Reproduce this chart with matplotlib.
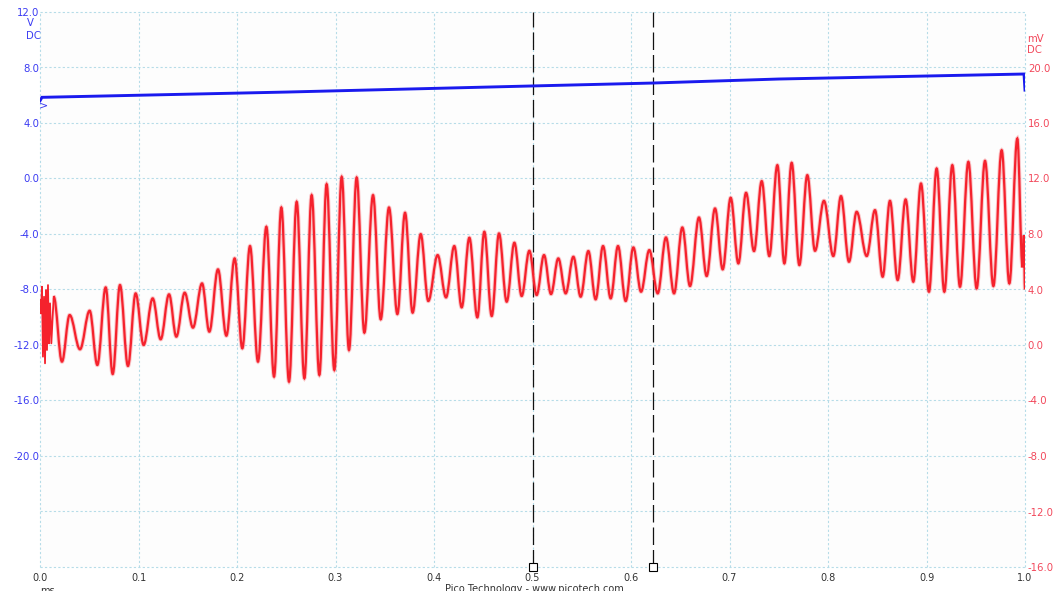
import matplotlib
matplotlib.use("Agg")
import matplotlib.pyplot as plt
from matplotlib.path import Path
from matplotlib.patches import PathPatch

# ---------------- data ----------------
x_ticks = [0.0, 0.1, 0.2, 0.3, 0.4, 0.5, 0.6, 0.7, 0.8, 0.9, 1.0]
x_labels = ["0.0", "0.1", "0.2", "0.3", "0.4", "0.5", "0.6", "0.7", "0.8", "0.9", "1.0"]
v_ticks = [12, 8, 4, 0, -4, -8, -12, -16, -20, -24, -28]
v_labels = ["12.0", "8.0", "4.0", "0.0", "-4.0", "-8.0", "-12.0", "-16.0", "-20.0", "", ""]
mv_ticks = [24, 20, 16, 12, 8, 4, 0, -4, -8, -12, -16]
mv_labels = ["", "20.0", "16.0", "12.0", "8.0", "4.0", "0.0", "-4.0", "-8.0", "-12.0", "-16.0"]

# Channel A (blue, V)
blue_t = [0.0, 0.002, 0.25, 0.5, 0.622, 0.75, 0.999, 1.0]
blue_v = [5.6, 5.85, 6.23, 6.67, 6.88, 7.17, 7.53, 6.37]

# Channel B (red, mV) - noisy start
noise_t = [0.0, 0.0010, 0.0020, 0.0030, 0.0041, 0.0051, 0.0061, 0.0071, 0.0081, 0.0091, 0.0102, 0.0115]
noise_mv = [3.24, 2.28, 4.2, -0.84, 3.48, -1.32, 3.96, -0.36, 4.32, 0.12, 3.0, 0.12]

# Channel B (red, mV) - successive peaks/troughs of the oscillation
red_t = [0.0139, 0.0223, 0.0301, 0.0406, 0.0504, 0.0582, 0.0667, 0.0738, 0.0812, 0.0893,
         0.0971, 0.1052, 0.1144, 0.1225, 0.1310, 0.1384, 0.1469, 0.1553, 0.1645, 0.1719,
         0.1807, 0.1892, 0.1976, 0.2054, 0.2132, 0.2213, 0.2298, 0.2376, 0.2450, 0.2528,
         0.2606, 0.2684, 0.2758, 0.2836, 0.2910, 0.2988, 0.3063, 0.3137, 0.3215, 0.3293,
         0.3381, 0.3459, 0.3543, 0.3628, 0.3706, 0.3783, 0.3865, 0.3942, 0.4037, 0.4122,
         0.4206, 0.4281, 0.4359, 0.4440, 0.4511, 0.4586, 0.4660, 0.4738, 0.4816, 0.4890,
         0.4968, 0.5042, 0.5117, 0.5188, 0.5262, 0.5337, 0.5415, 0.5489, 0.5567, 0.5641,
         0.5716, 0.5794, 0.5868, 0.5946, 0.6024, 0.6102, 0.6186, 0.6271, 0.6355, 0.6437,
         0.6521, 0.6599, 0.6690, 0.6768, 0.6853, 0.6931, 0.7012, 0.7090, 0.7168, 0.7249,
         0.7327, 0.7404, 0.7486, 0.7557, 0.7631, 0.7709, 0.7790, 0.7868, 0.7959, 0.8054,
         0.8132, 0.8213, 0.8291, 0.8393, 0.8477, 0.8555, 0.8629, 0.8707, 0.8788, 0.8866,
         0.8944, 0.9025, 0.9103, 0.9181, 0.9262, 0.9340, 0.9425, 0.9509, 0.9594, 0.9679,
         0.9763, 0.9841, 0.9922, 0.9975, 0.9988, 1.0]
red_mv = [3.48, -1.2, 2.16, -0.31, 2.47, -1.44, 4.15, -2.09, 4.32, -1.51,
          3.72, 0.0, 3.36, 0.41, 3.65, 0.6, 3.77, 1.25, 4.44, 0.96,
          5.45, 0.67, 6.24, -0.24, 7.13, -1.2, 8.52, -2.28, 9.91, -2.64,
          10.32, -2.4, 10.8, -2.16, 11.59, -1.8, 12.12, -0.36, 12.07, 0.89,
          10.8, 1.85, 9.91, 2.23, 9.53, 2.33, 7.99, 3.17, 6.48, 3.43,
          7.13, 2.71, 7.73, 1.99, 8.16, 2.09, 8.04, 3.12, 7.37, 3.53,
          6.79, 3.6, 6.48, 3.67, 6.24, 3.72, 6.36, 3.48, 6.77, 3.29,
          7.13, 3.36, 7.13, 3.17, 7.03, 3.84, 6.84, 3.72, 7.75, 3.72,
          8.47, 4.25, 9.19, 4.97, 9.84, 5.45, 10.61, 5.88, 10.97, 6.77,
          11.81, 6.41, 12.96, 5.88, 13.13, 5.76, 12.24, 6.79, 10.39, 6.41,
          10.73, 6.0, 9.6, 6.41, 9.72, 4.92, 10.39, 4.68, 10.49, 4.56,
          11.64, 3.84, 12.72, 3.84, 12.96, 4.2, 13.2, 4.08, 13.27, 4.25,
          14.04, 4.44, 14.88, 5.6, 7.9, 4.0]

cursor_t = [0.5, 0.6223]

# ---------------- style ----------------
BLUE = "#1a1aee"
BLUE_LBL = "#3a3af2"
RED = "#f5222d"
RED_LBL = "#f2475a"
GRID = "#b6dce8"
W, H = 1053, 591

fig = plt.figure(figsize=(W / 100, H / 100), dpi=100)
fig.patch.set_facecolor("white")
ax = fig.add_axes([40 / W, 24 / H, 985 / W, 555 / H])
ax.set_facecolor("#fdfdfd")
ax.set_xlim(0, 1)
ax.set_ylim(-28, 12)
ax2 = ax.twinx()
ax2.set_ylim(-16, 24)

for a in (ax, ax2):
    for s in a.spines.values():
        s.set_visible(False)

ax.set_xticks(x_ticks, x_labels)
ax.set_yticks(v_ticks, v_labels)
ax2.set_yticks(mv_ticks, mv_labels)
ax.tick_params(axis="x", length=0, pad=4.5, labelsize=7, labelcolor="#333333")
ax.tick_params(axis="y", length=0, pad=0.5, labelsize=7.3, labelcolor=BLUE_LBL)
ax2.tick_params(axis="y", length=0, pad=2, labelsize=7.3, labelcolor=RED_LBL)
ax.grid(True, color=GRID, linestyle=(0, (2, 2)), linewidth=0.8)
for gl in ax.get_xgridlines() + ax.get_ygridlines():
    gl.set_clip_on(False)

# blue trace
ax.plot(blue_t, blue_v, color=BLUE, lw=2.1, solid_joinstyle="miter", zorder=3)

# cursors
for ct in cursor_t:
    ax.axvline(ct, color="#111111", lw=0.9, linestyle=(0, (14, 4)), zorder=2)
ax.plot(cursor_t, [-28] * len(cursor_t), "s", ms=5.5, mfc="white", mec="black",
        mew=0.8, clip_on=False, zorder=6)

# red trace: noisy start as straight segments, oscillation as smooth curves between extremes
ax2.plot(noise_t + [red_t[0]], noise_mv + [red_mv[0]], color=RED, lw=1.3, zorder=4)
k = 0.3634
verts = [(red_t[0], red_mv[0])]
codes = [Path.MOVETO]
for i in range(1, len(red_t)):
    d = red_t[i] - red_t[i - 1]
    verts += [(red_t[i - 1] + k * d, red_mv[i - 1]), (red_t[i] - k * d, red_mv[i]),
              (red_t[i], red_mv[i])]
    codes += [Path.CURVE4] * 3
path = Path(verts, codes)
ax2.add_patch(PathPatch(path, fill=False, edgecolor=RED, lw=3.0, alpha=0.25, zorder=4))
ax2.add_patch(PathPatch(path, fill=False, edgecolor=RED, lw=1.6, zorder=5))

# annotations
def ftext(x, y, s, **kw):
    fig.text(x / W, 1 - y / H, s, **kw)

ftext(30, 23, "V", ha="center", va="center", color=BLUE_LBL, fontsize=7.3)
ftext(33.5, 36, "DC", ha="center", va="center", color=BLUE_LBL, fontsize=7.3)
ftext(1027, 39, "mV", ha="left", va="center", color=RED_LBL, fontsize=7.3)
ftext(1027, 50, "DC", ha="left", va="center", color=RED_LBL, fontsize=7.3)
ftext(43.5, 105, ">", ha="center", va="center", color=BLUE_LBL, fontsize=8)
ftext(47.5, 585.5, "ms", ha="center", va="top", color="#333333", fontsize=7)
ftext(534, 584.5, "Pico Technology - www.picotech.com", ha="center", va="top",
      color="#333333", fontsize=7)

fig.savefig("out.png", dpi=100, facecolor="white")
